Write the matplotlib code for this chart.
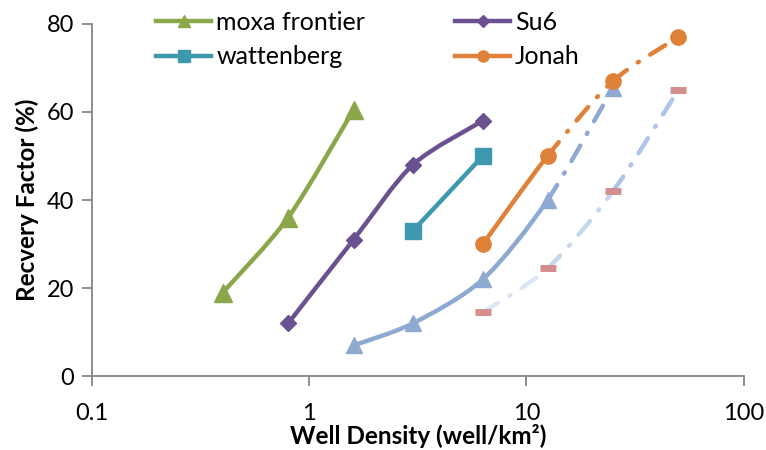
import numpy as np
import matplotlib
matplotlib.use('Agg')
import matplotlib.pyplot as plt
from matplotlib.path import Path
from matplotlib.patches import PathPatch
from matplotlib.lines import Line2D

# values
moxa_x = [0.4, 0.8, 1.6]
moxa_y = [19, 36, 60.5]

su6_x = [0.8, 1.6, 3.0, 6.3]
su6_y = [12, 31, 48, 58]

watt_x = [3.0, 6.3]
watt_y = [33, 50]

jonah_x = [6.3, 12.5, 25, 50]
jonah_y = [30, 50, 67, 77]

blue_x = [1.6, 3.0, 6.3, 12.5, 25]
blue_y = [7, 12, 22, 40, 65.5]

pale_x = [6.3, 12.5, 25, 50]
pale_y = [14.5, 24.5, 42, 65]

x_ticks = [0.1, 1, 10, 100]
x_labels = ['0.1', '1', '10', '100']
y_ticks = [0, 20, 40, 60, 80]

GREEN = '#8aa84a'
PURPLE = '#6c5190'
TEAL = '#3e98ae'
ORANGE = '#df8138'
BLUE = '#8eaad2'
RED = '#d48e8d'
DASHDOT = (0, (4.0, 3.0, 0.3, 3.0))

plt.rcParams['font.family'] = ['Lato', 'DejaVu Sans']


def smooth_segments(xs, ys, k=7.0):
    # Bezier pieces (Catmull-Rom style, like Excel's smoothed line) in log-x space
    lx = np.log10(xs)
    ys = np.asarray(ys, float)
    n = len(lx)
    segs = []
    for i in range(n - 1):
        i0 = max(i - 1, 0)
        i3 = min(i + 2, n - 1)
        c1 = (lx[i] + (lx[i + 1] - lx[i0]) / k, ys[i] + (ys[i + 1] - ys[i0]) / k)
        c2 = (lx[i + 1] - (lx[i3] - lx[i]) / k, ys[i + 1] - (ys[i3] - ys[i]) / k)
        pts = [(lx[i], ys[i]), c1, c2, (lx[i + 1], ys[i + 1])]
        segs.append([(10 ** a, b) for a, b in pts])
    return segs


def draw_smooth(ax, xs, ys, styles, colors, lw=3.2):
    segs = smooth_segments(xs, ys)
    for seg, ls, c in zip(segs, styles, colors):
        p = Path(seg, [Path.MOVETO, Path.CURVE4, Path.CURVE4, Path.CURVE4])
        patch = PathPatch(p, fill=False, edgecolor=c, lw=lw, linestyle=ls,
                          capstyle='round', joinstyle='round', zorder=2)
        ax.add_patch(patch)


fig, ax = plt.subplots(figsize=(7.66, 4.5), dpi=100)
fig.subplots_adjust(left=0.120, right=0.971, bottom=0.164, top=0.947)

# pale dash-dot series with red dash markers
draw_smooth(ax, pale_x, pale_y, [DASHDOT] * 3, ['#dde6f5', '#c8d7f0', '#aec4ea'])
ax.plot(pale_x, pale_y, ls='none', marker='_', ms=12, mew=5, color=RED, zorder=3)

# light blue series, solid then dash-dot
draw_smooth(ax, blue_x, blue_y, ['-', '-', '-', DASHDOT], [BLUE] * 4)
ax.plot(blue_x, blue_y, ls='none', marker='^', ms=11, color=BLUE, zorder=3)

# main series
draw_smooth(ax, moxa_x, moxa_y, ['-'] * 2, [GREEN] * 2)
ax.plot(moxa_x, moxa_y, ls='none', marker='^', ms=13, color=GREEN, zorder=3)

draw_smooth(ax, su6_x, su6_y, ['-'] * 3, [PURPLE] * 3)
ax.plot(su6_x, su6_y, ls='none', marker='D', ms=8, color=PURPLE, zorder=3)

ax.plot(watt_x, watt_y, color=TEAL, lw=3.2, marker='s', ms=11, zorder=3)

draw_smooth(ax, jonah_x, jonah_y, ['-', DASHDOT, DASHDOT], [ORANGE] * 3)
ax.plot(jonah_x, jonah_y, ls='none', marker='o', ms=11, color=ORANGE, zorder=3)

ax.set_xscale('log')
ax.set_xlim(0.1, 100)
ax.set_ylim(0, 80)
ax.set_xticks(x_ticks)
ax.set_xticklabels(x_labels)
ax.xaxis.set_minor_locator(matplotlib.ticker.NullLocator())
ax.set_yticks(y_ticks)

for side in ['top', 'right']:
    ax.spines[side].set_visible(False)
for side in ['left', 'bottom']:
    ax.spines[side].set_color('#868686')
    ax.spines[side].set_linewidth(1.3)
ax.tick_params(axis='both', colors='#868686', width=1.3, length=7,
               labelsize=17, labelcolor='black', pad=6)
ax.tick_params(axis='x', pad=12)

ax.set_xlabel('Well Density (well/km²)', fontsize=17.5, fontweight='bold', labelpad=0)
ax.set_ylabel('Recvery Factor (%)', fontsize=17.5, fontweight='bold', labelpad=5)

handles = [
    Line2D([], [], color=GREEN, lw=3.2, marker='^', ms=9),
    Line2D([], [], color=TEAL, lw=3.2, marker='s', ms=8),
    Line2D([], [], color=PURPLE, lw=3.2, marker='D', ms=6),
    Line2D([], [], color=ORANGE, lw=3.2, marker='o', ms=8),
]
labels = ['moxa frontier', 'wattenberg', 'Su6', 'Jonah']
ax.legend(handles, labels, ncol=2, frameon=False, fontsize=18,
          loc='upper left', bbox_to_anchor=(0.064, 1.10),
          handlelength=2.2, handletextpad=0.2, columnspacing=3.6,
          labelspacing=0.45)

fig.savefig('out.png', dpi=100)
